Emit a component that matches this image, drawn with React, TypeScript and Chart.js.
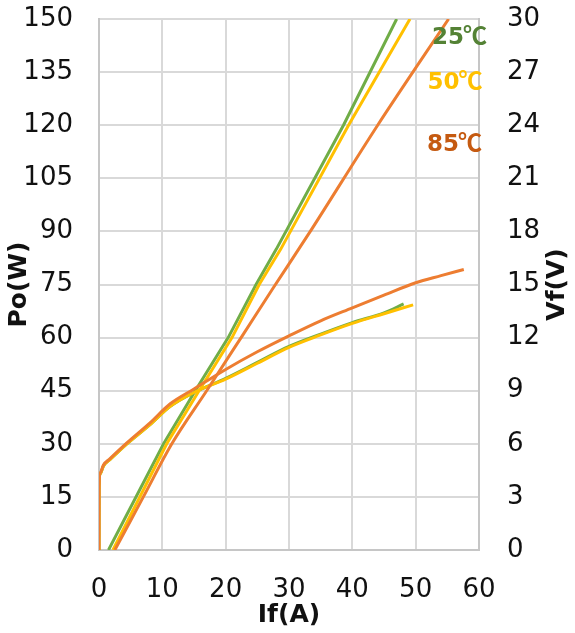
import React, { useEffect, useRef } from "react";
import { Chart, registerables } from "chart.js";

Chart.register(...registerables);

// X axis (If, A) ticks 0..60, left Po(W) 0..150, right Vf(V) 0..30
const xTicks = [0, 10, 20, 30, 40, 50, 60];

// Po (W) vs If (A)
const poIf25 = [1.5, 10.2, 15.2, 20.4, 24.8, 28.0, 38.6, 47.0];
const po25 = [0, 30, 45, 60, 75, 85, 120, 150];
const poIf50 = [2.2, 10.7, 15.8, 21.0, 25.3, 28.7, 39.4, 49.1];
const po50 = [0, 30, 45, 60, 75, 85, 120, 150];
const poIf85 = [2.5, 7.0, 11.5, 17.0, 22.8, 27.5, 33.0, 44.0, 55.2];
const po85 = [0, 15, 30, 45, 61, 74, 89, 120, 150];

// Vf (V) vs If (A)
const vfIf25 = [0, 0.02, 0.2, 0.7, 1.7, 4.4, 8.1, 11.2, 15, 20, 25, 30, 35, 40, 45, 48.1];
const vf25 = [0, 3.6, 4.3, 4.75, 5.1, 6.0, 7.1, 8.1, 8.9, 9.7, 10.6, 11.5, 12.2, 12.85, 13.4, 13.9];
const vfIf50 = [0, 0.02, 0.2, 0.7, 1.7, 4.4, 8.1, 11.2, 15, 20, 25, 30, 35, 40, 45, 49.6];
const vf50 = [0, 3.6, 4.3, 4.75, 5.1, 6.0, 7.1, 8.1, 8.9, 9.65, 10.55, 11.45, 12.15, 12.8, 13.35, 13.85];
const vfIf85 = [0, 0.02, 0.2, 0.7, 1.7, 4.4, 8.1, 11.2, 15, 20, 25, 30, 35, 40, 45, 50, 54, 57.6];
const vf85 = [0, 3.6, 4.35, 4.8, 5.15, 6.05, 7.2, 8.25, 9.1, 10.2, 11.2, 12.1, 12.95, 13.68, 14.4, 15.1, 15.5, 15.85];

// Temperature labels (number part + unit, anchor in data coords: If, Po)
const labelNums = ["25", "50", "85"];
const labelUnit = "℃";
const labelX = [57.0, 56.3, 56.2];
const labelY = [145.3, 132.5, 115.2];

const GREEN = "#70AD47";
const YELLOW = "#FFC000";
const ORANGE = "#ED7D31";
const labelColors = ["#548235", "#FFC000", "#C55A11"];

const zip = (xs: number[], ys: number[]) => xs.map((x, i) => ({ x, y: ys[i] }));

const FONT = "'DejaVu Sans', Verdana, sans-serif";
const CJK = "'Noto Sans CJK JP', 'Noto Sans CJK SC', sans-serif";

const extras = {
  id: "extras",
  afterDraw(chart: any) {
    const { ctx, scales, chartArea } = chart;
    ctx.save();
    ctx.textBaseline = "alphabetic";
    labelNums.forEach((t, i) => {
      ctx.font = `bold 23px ${FONT}`;
      const w1 = ctx.measureText(t).width;
      ctx.font = `bold 24px ${CJK}`;
      const w2 = ctx.measureText(labelUnit).width;
      const cx = scales.x.getPixelForValue(labelX[i]);
      const cy = scales.y.getPixelForValue(labelY[i]);
      const base = cy + 8.5;
      const x0 = cx - (w1 + w2) / 2;
      ctx.fillStyle = labelColors[i];
      ctx.textAlign = "left";
      ctx.font = `bold 23px ${FONT}`;
      ctx.fillText(t, x0, base);
      ctx.font = `bold 24px ${CJK}`;
      ctx.fillText(labelUnit, x0 + w1 - 1, base);
    });
    // right axis title, reading bottom-to-top
    ctx.translate(557, (chartArea.top + chartArea.bottom) / 2);
    ctx.rotate(-Math.PI / 2);
    ctx.textAlign = "center";
    ctx.textBaseline = "middle";
    ctx.fillStyle = "#111";
    ctx.font = `bold 25px ${FONT}`;
    ctx.fillText("Vf(V)", 0, 0);
    ctx.restore();
  },
};

export default function App() {
  const ref = useRef<HTMLCanvasElement | null>(null);
  useEffect(() => {
    if (!ref.current) return;
    const lineDs = (label: string, data: any[], color: string, axis: string, smooth: boolean) => ({
      label,
      data,
      borderColor: color,
      backgroundColor: color,
      borderWidth: 3,
      pointRadius: 0,
      tension: smooth ? 0.4 : 0,
      cubicInterpolationMode: smooth ? "monotone" : "default",
      yAxisID: axis,
      fill: false,
    });
    const chart = new Chart(ref.current, {
      type: "line",
      data: {
        datasets: [
          lineDs("Po 85℃", zip(poIf85, po85), ORANGE, "y", true),
          lineDs("Vf 85℃", zip(vfIf85, vf85), ORANGE, "y2", true),
          lineDs("Po 50℃", zip(poIf50, po50), YELLOW, "y", false),
          lineDs("Vf 50℃", zip(vfIf50, vf50), YELLOW, "y2", true),
          lineDs("Po 25℃", zip(poIf25, po25), GREEN, "y", false),
          lineDs("Vf 25℃", zip(vfIf25, vf25), GREEN, "y2", true),
        ],
      },
      options: {
        animation: false,
        responsive: false,
        devicePixelRatio: 1,
        layout: { padding: { top: 19, left: 0, right: 0, bottom: 0 } },
        plugins: { legend: { display: false }, tooltip: { enabled: false } },
        scales: {
          x: {
            type: "linear",
            min: xTicks[0],
            max: xTicks[xTicks.length - 1],
            afterBuildTicks: (s: any) => {
              s.ticks = xTicks.map((v) => ({ value: v }));
            },
            afterFit: (s: any) => {
              s.height = 83;
            },
            grid: { color: "#d9d9d9", lineWidth: 2, drawTicks: false },
            border: { color: "#c6c6c6", width: 2 },
            ticks: { color: "#111", font: { family: FONT, size: 26 }, padding: 25, maxRotation: 0 },
            title: {
              display: true,
              text: "If(A)",
              color: "#111",
              font: { family: FONT, size: 25, weight: "bold" },
              padding: { top: 0, bottom: 3 },
            },
          },
          y: {
            type: "linear",
            position: "left",
            min: 0,
            max: 150,
            ticks: { stepSize: 15, color: "#111", font: { family: FONT, size: 26 }, padding: 26 },
            afterFit: (s: any) => {
              s.width = 99;
              s.paddingTop = 0;
              s.paddingBottom = 0;
            },
            grid: { color: "#d9d9d9", lineWidth: 2, drawTicks: false },
            border: { color: "#c6c6c6", width: 2 },
            title: {
              display: true,
              text: "Po(W)",
              color: "#111",
              font: { family: FONT, size: 25, weight: "bold" },
              padding: { top: 4, bottom: 0 },
            },
          },
          y2: {
            type: "linear",
            position: "right",
            min: 0,
            max: 30,
            ticks: { stepSize: 3, color: "#111", font: { family: FONT, size: 26 }, padding: 28 },
            afterFit: (s: any) => {
              s.width = 96;
              s.paddingTop = 0;
              s.paddingBottom = 0;
            },
            grid: { display: false, drawTicks: false },
            border: { color: "#c6c6c6", width: 2 },
          },
        },
      } as any,
      plugins: [extras],
    });
    return () => chart.destroy();
  }, []);

  return (
    <div style={{ position: "fixed", left: 0, top: 0, width: 575, height: 633, background: "#fff" }}>
      <canvas ref={ref} width={575} height={633} style={{ display: "block", width: 575, height: 633 }} />
    </div>
  );
}
